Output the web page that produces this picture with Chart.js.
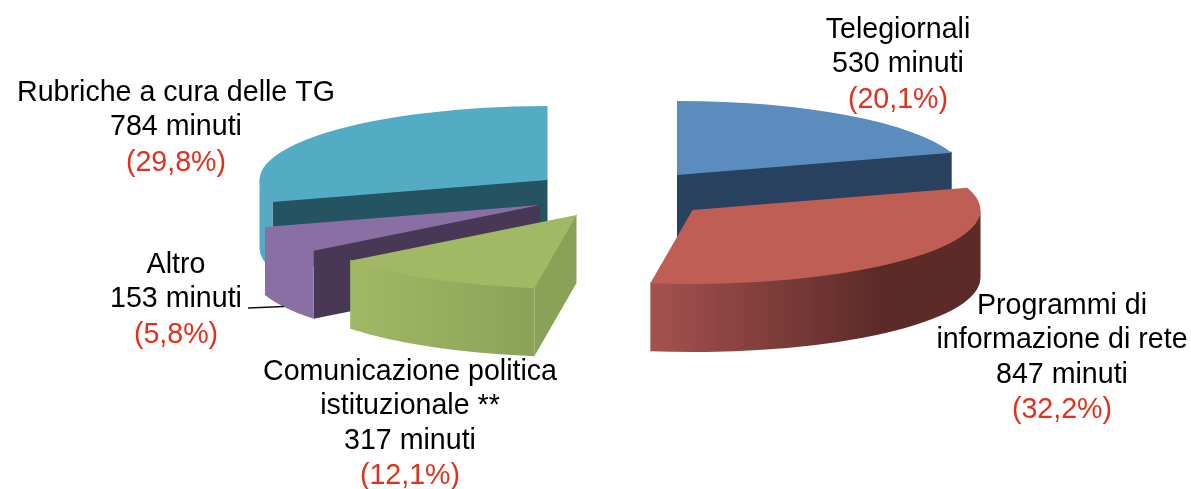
<!DOCTYPE html>
<html lang="it">
<head>
<meta charset="utf-8">
<title>Minuti per genere</title>
<script src="https://cdn.jsdelivr.net/npm/chart.js@4"></script>
<style>
html,body{margin:0;padding:0;background:#fff;overflow:hidden}
canvas{display:block}
</style>
</head>
<body>
<canvas id="c" width="1191" height="489"></canvas>
<script>
const categories = ['Telegiornali', 'Programmi di informazione di rete', 'Comunicazione politica istituzionale **', 'Altro', 'Rubriche a cura delle TG'];
const minutes = [530, 847, 317, 153, 784];
const percents = ['(20,1%)', '(32,2%)', '(12,1%)', '(5,8%)', '(29,8%)'];
const nameLines = [['Telegiornali'], ['Programmi di', 'informazione di rete'], ['Comunicazione politica', 'istituzionale **'], ['Altro'], ['Rubriche a cura delle TG']];
const topColors = ['#5a8cbd', '#bf5e55', '#a1b865', '#8a6fa5', '#53acc3'];

const style = {
  rx: 288, ry: 74, depth: 68,
  // shift of each exploded slice from the chart centre
  shift: [[81.5, -69.5], [97, -34.5], [-19, -29.5], [-55.5, -39.5], [-48, -64.5]],
  faceColor: ['#28415f', null, '#89a258', '#493756', '#245462'],
  faceEdge: ['end', null, 'start', 'start', 'start'],
  wall: [null, ['#a5524f', '#5c2a27', 650, 880], ['#a1b865', '#8aa358', 349, 533], ['#8a6fa5', '#8a6fa5', 264, 313], ['#53acc3', '#53acc3', 259, 272]],
  order: [4, 0, 3, 2, 1],
  labels: [[898, 30], [1062, 306], [410, 372], [176, 265], [176, 93]],
  lineGap: 34.4,
  font: '28.6px "Liberation Sans", Arial, sans-serif',
  ink: '#000000', red: '#e2301c'
};

const pseudo3d = {
  id: 'pseudo3d',
  beforeDatasetsDraw(chart) {
    const ctx = chart.ctx;
    const arcs = chart.getDatasetMeta(0).data;
    const s = style;
    style.order.forEach(i => {
      const el = arcs[i];
      const ax = el.x + s.shift[i][0], ay = el.y + s.shift[i][1];
      const pt = a => [ax + s.rx * Math.cos(a), ay + s.ry * Math.sin(a)];
      // cut face (1px under the top surface so no seam shows)
      if (s.faceEdge[i]) {
        const p = pt(s.faceEdge[i] === 'start' ? el.startAngle : el.endAngle);
        ctx.fillStyle = s.faceColor[i];
        ctx.beginPath();
        ctx.moveTo(ax, ay - 1);
        ctx.lineTo(p[0], p[1] - 1);
        ctx.lineTo(p[0], p[1] + s.depth);
        ctx.lineTo(ax, ay + s.depth);
        ctx.closePath();
        ctx.fill();
      }
      // outer wall: only the part of the rim that faces the viewer
      if (s.wall[i]) {
        const a0 = Math.max(el.startAngle, 0);
        const a1 = Math.min(el.endAngle, Math.PI);
        const w = s.wall[i];
        const g = ctx.createLinearGradient(w[2], 0, w[3], 0);
        g.addColorStop(0, w[0]);
        g.addColorStop(1, w[1]);
        ctx.fillStyle = g;
        ctx.beginPath();
        ctx.ellipse(ax, ay - 1, s.rx, s.ry, 0, a0, a1, false);
        ctx.ellipse(ax, ay + s.depth, s.rx, s.ry, 0, a1, a0, true);
        ctx.closePath();
        ctx.fill();
      }
      // top surface: the library's own arc element, projected
      ctx.save();
      ctx.translate(ax, ay);
      ctx.scale(s.rx / el.outerRadius, s.ry / el.outerRadius);
      ctx.translate(-el.x, -el.y);
      el.draw(ctx);
      ctx.restore();
    });
    // leader line for "Altro"
    ctx.strokeStyle = '#111';
    ctx.lineWidth = 1.5;
    ctx.beginPath();
    ctx.moveTo(248, 308);
    ctx.lineTo(284, 306.5);
    ctx.stroke();
    return false;
  },
  afterDraw(chart) {
    const ctx = chart.ctx, s = style;
    ctx.save();
    ctx.font = s.font;
    ctx.textAlign = 'center';
    ctx.textBaseline = 'middle';
    ctx.filter = 'blur(0.45px)';
    categories.forEach((_, i) => {
      const [x, y0] = s.labels[i];
      const lines = nameLines[i].concat([minutes[i] + ' minuti']);
      ctx.fillStyle = s.ink;
      lines.forEach((t, k) => ctx.fillText(t, x, y0 + k * s.lineGap));
      ctx.fillStyle = s.red;
      ctx.fillText(percents[i], x, y0 + lines.length * s.lineGap + 1);
    });
    ctx.restore();
  }
};

new Chart(document.getElementById('c'), {
  type: 'pie',
  data: {
    labels: categories,
    datasets: [{ data: minutes, backgroundColor: topColors, borderWidth: 0 }]
  },
  options: {
    responsive: false,
    animation: false,
    plugins: { legend: { display: false }, tooltip: { enabled: false } }
  },
  plugins: [pseudo3d]
});
</script>
</body>
</html>
